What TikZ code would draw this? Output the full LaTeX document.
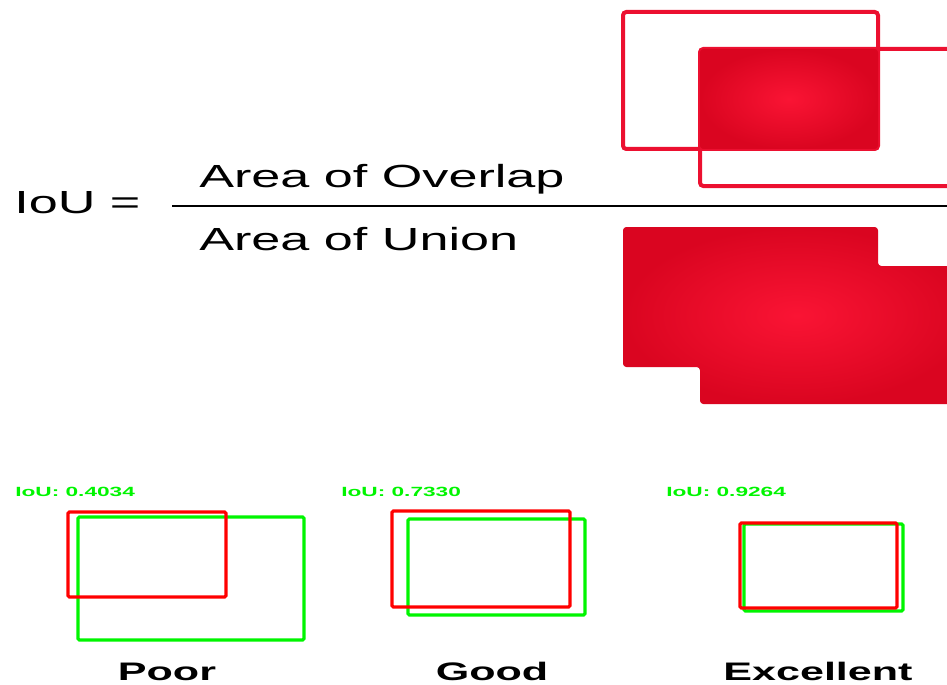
\documentclass[tikz,border=0pt]{standalone}
\usepackage{graphicx}
\usepackage{fontspec}
\setmainfont{Liberation Sans}
\definecolor{iouRed}{RGB}{236,16,48}
\definecolor{iouIn}{RGB}{250,20,52}
\definecolor{iouOut}{RGB}{218,5,32}
\definecolor{detRed}{RGB}{255,0,0}
\definecolor{detGreen}{RGB}{0,245,0}
\newcommand\wideTxt[1]{\scalebox{1.7}[1]{#1}}
\newcommand\wideBig[1]{\scalebox{1.63}[1]{#1}}
\tikzset{
  outlinebox/.style={draw=iouRed, line width=3pt, rounded corners=2.5pt},
  fillbox/.style={inner color=iouIn, outer color=iouOut, rounded corners=2.5pt},
  redbox/.style={draw=detRed, line width=2.4pt, rounded corners=1pt},
  greenbox/.style={draw=detGreen, line width=2.4pt, rounded corners=1pt},
  bigtxt/.style={inner sep=0pt, font=\fontsize{24}{27}\selectfont},
  labeltxt/.style={inner sep=0pt, anchor=base, font=\fontsize{19}{22}\selectfont\bfseries},
  scoretxt/.style={inner sep=0pt, anchor=base west, text=detGreen, font=\fontsize{10}{12}\selectfont\bfseries}
}
\begin{document}
\begin{tikzpicture}[x=0.75pt,y=-0.75pt]
\clip (0,0) rectangle (947,685);
\fill[white] (0,0) rectangle (947,685);
% top overlap illustration
\draw[outlinebox] (623,12) rectangle (878,149);
\draw[outlinebox] (700,49) rectangle (970,186);
\shade[fillbox] (700,49) rectangle (878,149);
% union illustration
\shade[fillbox] (623,227) -- (878,227) -- (878,266) -- (970,266) -- (970,404) -- (700,404) -- (700,367) -- (623,367) -- cycle;
% formula
\node[bigtxt, anchor=base west] (iou) at (14,213) {\wideBig{IoU =}};
\node[bigtxt, anchor=base west] (num) at (199,187) {\wideBig{Area of Overlap}};
\node[bigtxt, anchor=base west] (den) at (199,250) {\wideBig{Area of Union}};
\coordinate (barL) at (172,206);
\coordinate (barR) at (947,206);
\draw[line width=2.1pt] (barL) -- (barR);
% Poor
\node[scoretxt] (s1) at (15,496) {\wideTxt{IoU: 0.4034}};
\draw[greenbox] (78,517) rectangle (304,640);
\draw[redbox] (68,512) rectangle (226,597);
\node[labeltxt] (l1) at (167,680) {\wideTxt{Poor}};
% Good
\node[scoretxt] (s2) at (341,496) {\wideTxt{IoU: 0.7330}};
\draw[greenbox] (408,519) rectangle (585,615);
\draw[redbox] (392,511) rectangle (570,607);
\node[labeltxt] (l2) at (492,680) {\wideTxt{Good}};
% Excellent
\node[scoretxt] (s3) at (666,496) {\wideTxt{IoU: 0.9264}};
\draw[greenbox] (744,524) rectangle (903,611);
\draw[redbox] (740,523) rectangle (897,608);
\node[labeltxt] (l3) at (818,680) {\wideTxt{Excellent}};
\end{tikzpicture}
\end{document}
